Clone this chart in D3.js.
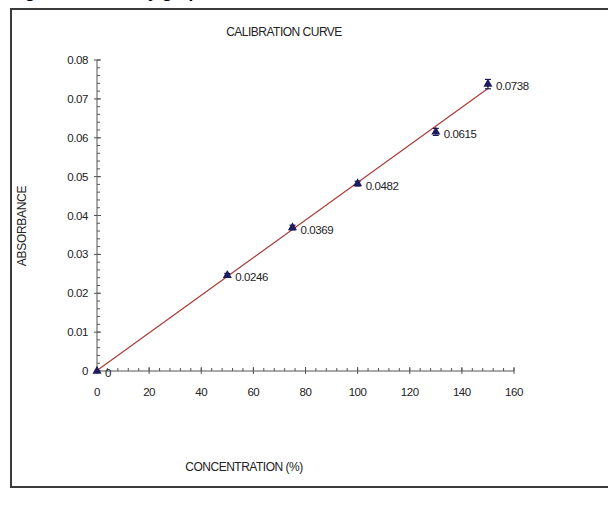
<!DOCTYPE html>
<html><head><meta charset="utf-8">
<script src="https://cdn.jsdelivr.net/npm/d3@7"></script>
<style>
html,body{margin:0;padding:0;background:#fff;}
text{font-family:"Liberation Sans",Arial,sans-serif;fill:#222;}
</style></head>
<body><svg id="c" width="608" height="518"></svg>
<script>
const concentration = [0, 50, 75, 100, 130, 150];
const absorbance = [0, 0.0246, 0.0369, 0.0482, 0.0615, 0.0738];
const errors = [0, 0.0005, 0.0006, 0.0006, 0.0009, 0.0012];
const pointLabels = ["0", "0.0246", "0.0369", "0.0482", "0.0615", "0.0738"];
const xTicks = [0, 20, 40, 60, 80, 100, 120, 140, 160];
const yTicks = [0, 0.01, 0.02, 0.03, 0.04, 0.05, 0.06, 0.07, 0.08];
const yTickLabels = ["0", "0.01", "0.02", "0.03", "0.04", "0.05", "0.06", "0.07", "0.08"];
const title = "CALIBRATION CURVE";
const xTitle = "CONCENTRATION (%)";
const yTitle = "ABSORBANCE";

const svg = d3.select("#c");
svg.append("rect").attr("width",608).attr("height",518).attr("fill","#fff");

// cropped caption text from the page above the chart (only descenders visible)
svg.append("text").attr("x",10).attr("y",-2).style("font-size","17px").style("font-weight","bold")
  .style("fill","#000").text("Figure 4: Linearity graph");

// outer frame
svg.append("rect").attr("x",11).attr("y",9).attr("width",620).attr("height",478)
  .attr("fill","none").attr("stroke","#3a3a3a").attr("stroke-width",2);

const x = d3.scaleLinear().domain([0,160]).range([97,514]);
const y = d3.scaleLinear().domain([0,0.08]).range([371,60]);

const axisColor = "#555";
const fs = "11.5px";
// y axis
const gy = svg.append("g");
gy.append("line").attr("x1",x(0)).attr("x2",x(0)).attr("y1",y(0)).attr("y2",y(0.08)).attr("stroke",axisColor);
d3.range(0,0.0801,0.002).forEach(v=>{
  gy.append("line").attr("x1",x(0)).attr("x2",x(0)+3).attr("y1",y(v)).attr("y2",y(v)).attr("stroke",axisColor);
});
yTicks.forEach((v,i)=>{
  gy.append("line").attr("x1",x(0)-3).attr("x2",x(0)+4).attr("y1",y(v)).attr("y2",y(v)).attr("stroke",axisColor);
  gy.append("text").attr("x",x(0)-9).attr("y",y(v)).attr("dy","0.35em").attr("text-anchor","end")
    .style("font-size",fs).style("letter-spacing","-0.4px").text(yTickLabels[i]);
});
// x axis
const gx = svg.append("g");
gx.append("line").attr("x1",x(0)).attr("x2",x(160)).attr("y1",y(0)).attr("y2",y(0)).attr("stroke",axisColor);
d3.range(0,160.1,4).forEach(v=>{
  gx.append("line").attr("x1",x(v)).attr("x2",x(v)).attr("y1",y(0)-3).attr("y2",y(0)).attr("stroke",axisColor);
});
xTicks.forEach(v=>{
  gx.append("line").attr("x1",x(v)).attr("x2",x(v)).attr("y1",y(0)-4).attr("y2",y(0)+3).attr("stroke",axisColor);
  gx.append("text").attr("x",x(v)).attr("y",y(0)+21).attr("dy","0.35em").attr("text-anchor","middle")
    .style("font-size",fs).style("letter-spacing","-0.4px").text(v);
});

// titles
svg.append("text").attr("x",284).attr("y",32).attr("dy","0.35em").attr("text-anchor","middle")
  .style("font-size","12px").style("letter-spacing","-0.5px").text(title);
svg.append("text").attr("x",244).attr("y",467).attr("dy","0.35em").attr("text-anchor","middle")
  .style("font-size","12px").style("letter-spacing","-0.5px").text(xTitle);
svg.append("text").attr("transform","translate(22,226) rotate(-90)").attr("dy","0.35em").attr("text-anchor","middle")
  .style("font-size","12px").style("letter-spacing","-0.3px").text(yTitle);

// linear trendline (least squares)
const n = concentration.length;
const mx = d3.mean(concentration), my = d3.mean(absorbance);
let sxy=0, sxx=0;
for(let i=0;i<n;i++){ sxy+=(concentration[i]-mx)*(absorbance[i]-my); sxx+=(concentration[i]-mx)**2; }
const slope = sxy/sxx, icpt = my - slope*mx;
const xmin = d3.min(concentration), xmax = d3.max(concentration);
svg.append("line").attr("x1",x(xmin)).attr("y1",y(Math.max(0,icpt+slope*xmin)))
  .attr("x2",x(xmax)).attr("y2",y(icpt+slope*xmax))
  .attr("stroke","#a83a36").attr("stroke-width",1.2);

// error bars
const data = concentration.map((c,i)=>({c, a:absorbance[i], e:errors[i], l:pointLabels[i]}));
const eb = svg.append("g").attr("stroke","#1a1a4a").attr("stroke-width",1.2);
data.filter(d=>d.e>0).forEach(d=>{
  eb.append("line").attr("x1",x(d.c)).attr("x2",x(d.c)).attr("y1",y(d.a+d.e)).attr("y2",y(d.a-d.e));
  eb.append("line").attr("x1",x(d.c)-3).attr("x2",x(d.c)+3).attr("y1",y(d.a+d.e)).attr("y2",y(d.a+d.e));
  eb.append("line").attr("x1",x(d.c)-3).attr("x2",x(d.c)+3).attr("y1",y(d.a-d.e)).attr("y2",y(d.a-d.e));
});
// markers
svg.append("g").selectAll("path").data(data).join("path")
  .attr("transform",d=>`translate(${x(d.c)},${y(d.a)})`)
  .attr("d",d3.symbol(d3.symbolTriangle,36))
  .attr("fill","#1c1c5e");
// value labels
svg.append("g").selectAll("text").data(data).join("text")
  .attr("x",d=>x(d.c)+8).attr("y",d=>y(d.a)+2).attr("dy","0.35em")
  .style("font-size",fs).style("letter-spacing","-0.4px").text(d=>d.l);
</script></body></html>
